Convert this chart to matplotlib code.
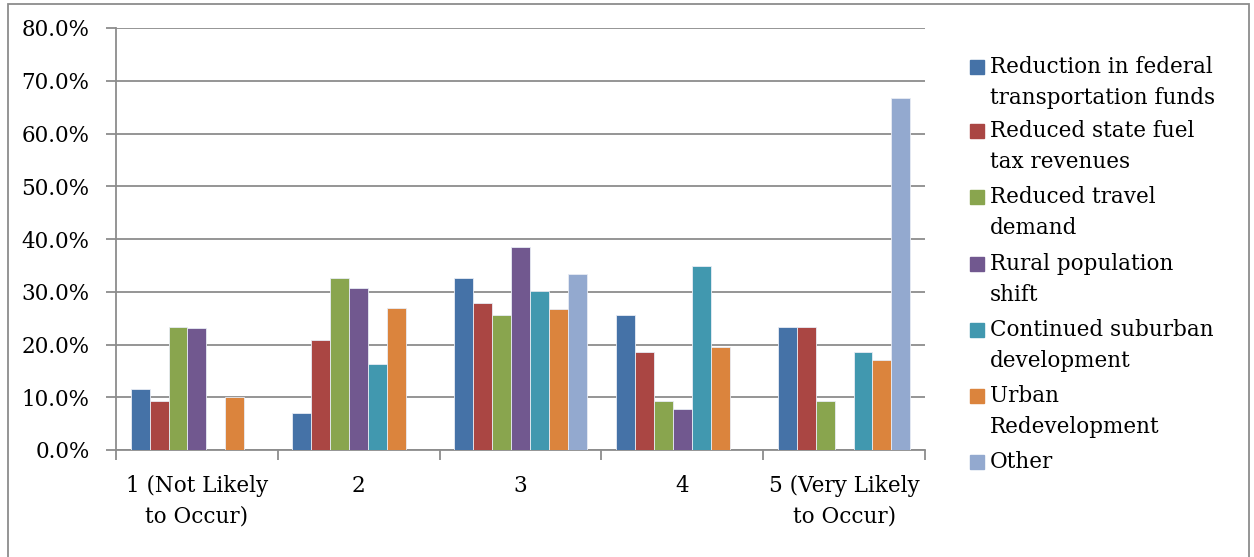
import matplotlib
matplotlib.use("Agg")
import matplotlib.pyplot as plt
from matplotlib.patches import Rectangle
import numpy as np

plt.rcParams['font.family'] = ['DejaVu Serif']

categories = ['1 (Not Likely\nto Occur)', '2', '3', '4', '5 (Very Likely\nto Occur)']
series_names = ['Reduction in federal\ntransportation funds',
                'Reduced state fuel\ntax revenues',
                'Reduced travel\ndemand',
                'Rural population\nshift',
                'Continued suburban\ndevelopment',
                'Urban\nRedevelopment',
                'Other']
colors = ['#4572A7', '#AA4643', '#89A54E', '#71588F', '#4198AF', '#DB843D', '#93A9CF']

# values in %, one list per series (across categories 1..5)
federal = [11.6, 7.0, 32.6, 25.6, 23.3]
state_fuel = [9.3, 20.9, 27.9, 18.6, 23.3]
travel = [23.3, 32.6, 25.6, 9.3, 9.3]
rural = [23.1, 30.8, 38.5, 7.7, 0.0]
suburban = [0.0, 16.3, 30.2, 34.9, 18.6]
urban = [10.0, 26.9, 26.8, 19.5, 17.1]
other = [0.0, 0.0, 33.3, 0.0, 66.7]
series = [federal, state_fuel, travel, rural, suburban, urban, other]

FS = 15.5
W, H = 1254, 557
fig = plt.figure(figsize=(W / 100, H / 100), dpi=100)
ax = fig.add_axes([116 / W, 1 - 450 / H, (925 - 116) / W, (450 - 28) / H])

x = np.arange(len(categories))
bw = 0.117
for i, vals in enumerate(series):
    off = (i - 3) * bw
    ax.bar(x + off, vals, bw, color=colors[i], edgecolor='#e8ecf4', linewidth=0.6, zorder=3)

ax.set_xlim(-0.5, len(categories) - 0.5)
ax.set_ylim(0, 80)
ax.set_yticks(np.arange(0, 81, 10))
ax.set_yticklabels(['%.1f%%' % v for v in np.arange(0, 81, 10)], fontsize=FS)
ax.yaxis.grid(True, color='#8c8c8c', linewidth=1.3, zorder=0)
ax.set_axisbelow(True)

ax.set_xticks(x)
ax.set_xticklabels(categories, fontsize=FS, linespacing=1.5)
ax.tick_params(axis='x', length=0, pad=18)
ax.set_xticks(np.arange(-0.5, len(categories)), minor=True)
ax.tick_params(axis='x', which='minor', length=7, width=1.3, color='#8c8c8c', direction='out')
ax.tick_params(axis='y', length=7, width=1.3, color='#8c8c8c', direction='out', pad=12)

for s in ['top', 'right']:
    ax.spines[s].set_visible(False)
for s in ['left', 'bottom']:
    ax.spines[s].set_color('#8c8c8c')
    ax.spines[s].set_linewidth(1.3)

# legend drawn by hand so the swatch sits on the first text line
leg_y = [67, 131, 197, 264, 330, 396, 462]
for name, c, yy in zip(series_names, colors, leg_y):
    fig.patches.append(Rectangle((970 / W, 1 - (yy + 7) / H), 14 / W, 14 / H,
                                 transform=fig.transFigure, color=c, figure=fig))
    fig.text(990 / W, 1 - (yy - 11) / H, name, fontsize=FS, va='top', ha='left',
             linespacing=1.55)

# outer chart border
fig.patches.append(Rectangle((8 / W, -0.05), (1249 - 8) / W, 1 - 4 / H + 0.05,
                             transform=fig.transFigure, fill=False,
                             edgecolor='#8c8c8c', linewidth=1.3, figure=fig))

fig.savefig('out.png', dpi=100)
